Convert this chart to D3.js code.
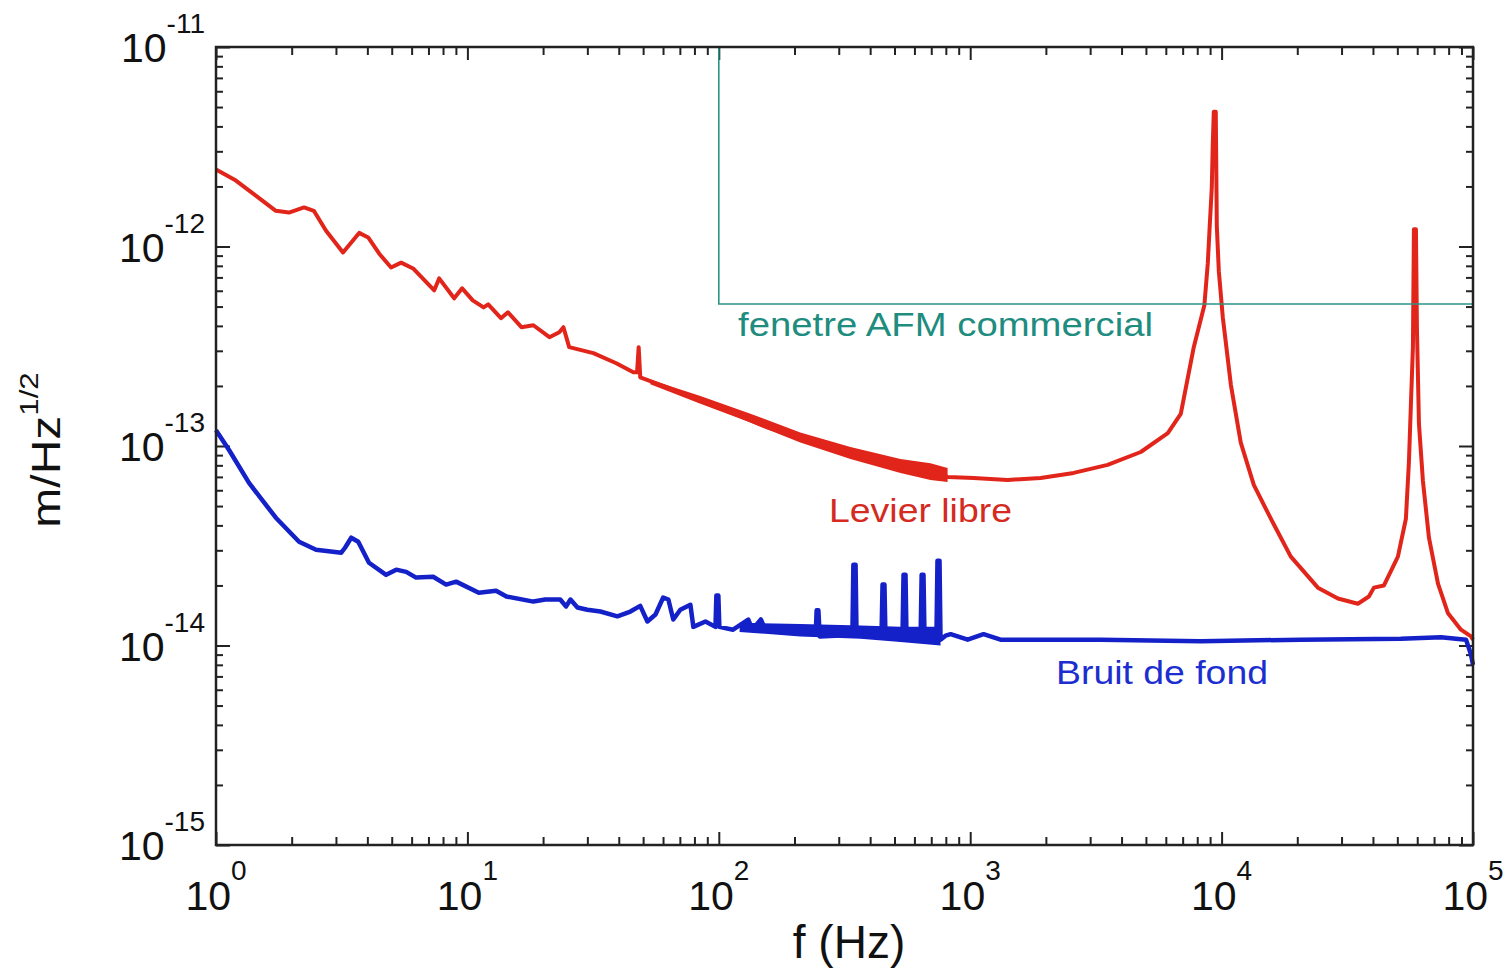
<!DOCTYPE html>
<html>
<head>
<meta charset="utf-8">
<script src="https://cdn.jsdelivr.net/npm/d3@7"></script>
<style>
  body { margin: 0; background: #fff; }
  svg { display: block; font-family: "Liberation Sans", Arial, sans-serif; }
</style>
</head>
<body>
<svg id="chart"></svg>
<script>
// frequency (Hz) / amplitude (m/Hz^1/2)
const redFreq = [1, 1.2, 1.44, 1.73, 1.95, 2.24, 2.45, 2.74, 3.2, 3.71, 4.03, 4.46, 4.97, 5.45, 6.08, 7.38, 7.72, 8.86, 9.53, 10.5,
  11.6, 12.1, 13.6, 14.5, 16.4, 18.3, 21.2, 23.2, 24.1, 25.4, 31.7, 39.1, 45.7, 47.3, 48.0, 48.7, 62.4, 84.5, 114, 156,
  211, 286, 391, 528, 715, 813, 1032, 1409, 1906, 2580, 3520, 4770, 6110, 6880, 7750, 8540, 8810, 8970, 9140, 9220,
  9310, 9480, 9570, 9750, 10110, 10890, 11920, 13430, 15700, 18850, 24150, 29010, 34850, 38540, 40360, 44240, 50270, 54090, 55600, 56630,
  57680, 58210, 59290, 59840, 60960, 63210, 66800, 72560, 79550, 89540, 98190, 100000];
const redAmp = [2.43e-12, 2.14e-12, 1.8e-12, 1.51e-12, 1.48e-12, 1.57e-12, 1.51e-12, 1.2e-12, 9.33e-13, 1.17e-12, 1.11e-12, 9.2e-13, 7.85e-13, 8.3e-13, 7.76e-13, 6.03e-13, 6.92e-13, 5.5e-13, 6.17e-13, 5.37e-13,
  4.95e-13, 5.13e-13, 4.37e-13, 4.68e-13, 3.94e-13, 4.03e-13, 3.51e-13, 3.72e-13, 3.94e-13, 3.13e-13, 2.92e-13, 2.6e-13, 2.34e-13, 2.34e-13, 3.13e-13, 2.21e-13, 1.97e-13, 1.7e-13, 1.46e-13, 1.24e-13,
  1.1e-13, 9.77e-14, 8.7e-14, 7.85e-14, 7.33e-14, 7.0e-14, 6.92e-14, 6.76e-14, 6.92e-14, 7.33e-14, 8.04e-14, 9.33e-14, 1.16e-13, 1.45e-13, 3.13e-13, 5.07e-13, 8.2e-13, 1.27e-12, 1.97e-12, 3.2e-12,
  4.73e-12, 4.73e-12, 1.27e-12, 7.5e-13, 4.42e-13, 2.02e-13, 1.04e-13, 6.38e-14, 4.32e-14, 2.79e-14, 1.95e-14, 1.72e-14, 1.62e-14, 1.76e-14, 1.95e-14, 2.0e-14, 2.79e-14, 4.32e-14, 8.3e-14, 1.62e-13,
  3.13e-13, 1.22e-12, 1.22e-12, 3.89e-13, 1.29e-13, 6.68e-14, 3.47e-14, 2.04e-14, 1.45e-14, 1.2e-14, 1.11e-14, 1.07e-14];

// noisy band of the red trace (upper / lower edge)
const redBandFreq = [53.4, 84.5, 133.6, 211, 334, 528, 695, 813];
const redBandHi = [2.15e-13, 1.78e-13, 1.45e-13, 1.17e-13, 9.89e-14, 8.6e-14, 8.2e-14, 7.76e-14];
const redBandLo = [2.04e-13, 1.63e-13, 1.31e-13, 1.04e-13, 8.6e-14, 7.33e-14, 6.76e-14, 6.6e-14];

const blueFreq = [1, 1.127, 1.353, 1.73, 2.14, 2.5, 3.15, 3.26, 3.45, 3.68, 4.06, 4.75, 5.21, 5.71, 6.25, 7.31, 8.23, 9.02, 11.1, 13.0,
  14.3, 18.3, 20.4, 23.4, 24.7, 25.7, 27.4, 30.0, 33.8, 39.5, 44.5, 48.7, 52.0, 56.0, 60.1, 63.0, 65.9, 70.3, 77.1, 79.2,
  88.5, 97.0, 97.8, 99.6, 100.5, 114, 131, 136, 147, 153, 181, 211, 243, 245, 249, 252, 291, 340, 343, 350,
  353, 402, 444, 448, 456, 460, 538, 543, 553, 558, 635, 641, 652, 658, 734, 741, 755, 762, 798, 836,
  977, 1130, 1320, 3300, 8260, 20650, 51650, 74600, 93800, 98190, 100000];
const blueAmp = [1.2e-13, 9.55e-14, 6.53e-14, 4.37e-14, 3.31e-14, 3.02e-14, 2.92e-14, 3.09e-14, 3.47e-14, 3.31e-14, 2.6e-14, 2.26e-14, 2.4e-14, 2.34e-14, 2.19e-14, 2.21e-14, 2.02e-14, 2.09e-14, 1.84e-14, 1.88e-14,
  1.76e-14, 1.66e-14, 1.7e-14, 1.7e-14, 1.57e-14, 1.7e-14, 1.55e-14, 1.51e-14, 1.48e-14, 1.4e-14, 1.48e-14, 1.58e-14, 1.32e-14, 1.43e-14, 1.74e-14, 1.7e-14, 1.35e-14, 1.51e-14, 1.6e-14, 1.24e-14,
  1.32e-14, 1.24e-14, 1.78e-14, 1.78e-14, 1.24e-14, 1.2e-14, 1.35e-14, 1.2e-14, 1.35e-14, 1.2e-14, 1.16e-14, 1.17e-14, 1.14e-14, 1.5e-14, 1.5e-14, 1.11e-14, 1.12e-14, 1.15e-14, 2.54e-14, 2.54e-14,
  1.15e-14, 1.12e-14, 1.15e-14, 2.02e-14, 2.02e-14, 1.14e-14, 1.14e-14, 2.26e-14, 2.26e-14, 1.12e-14, 1.12e-14, 2.26e-14, 2.26e-14, 1.1e-14, 1.1e-14, 2.66e-14, 2.66e-14, 1.07e-14, 1.12e-14, 1.14e-14,
  1.07e-14, 1.14e-14, 1.07e-14, 1.07e-14, 1.05e-14, 1.07e-14, 1.08e-14, 1.1e-14, 1.07e-14, 9.0e-15, 8.0e-15];

const blueBandFreq = [121, 211, 366, 528, 762];
const blueBandHi = [1.3e-14, 1.28e-14, 1.26e-14, 1.24e-14, 1.24e-14];
const blueBandLo = [1.17e-14, 1.11e-14, 1.08e-14, 1.04e-14, 1.0e-14];

// commercial AFM window (corner at 100 Hz)
const windowFreq = [100, 100, 100000];
const windowAmp = [1e-11, 5.15e-13, 5.15e-13];

const xTickExps = [0, 1, 2, 3, 4, 5];
const yTickExps = [-11, -12, -13, -14, -15];

const W = 1511, H = 968;
const margin = { left: 216, top: 47, right: W - 1473, bottom: H - 845 };
const width = W - margin.left - margin.right;
const height = H - margin.top - margin.bottom;

const svg = d3.select('#chart').attr('width', W).attr('height', H);
svg.append('rect').attr('width', W).attr('height', H).attr('fill', '#fff');

const g = svg.append('g').attr('transform', `translate(${margin.left},${margin.top})`);

const x = d3.scaleLog().domain([1, 1e5]).range([0, width]);
const y = d3.scaleLog().domain([1e-15, 1e-11]).range([height, 0]);

// ticks: majors on decades, minors 2..9
const xMajor = xTickExps.map(e => Math.pow(10, e));
const xMinor = [];
xTickExps.slice(0, -1).forEach(e => { for (let k = 2; k <= 9; k++) xMinor.push(k * Math.pow(10, e)); });
const yMajor = yTickExps.map(e => Math.pow(10, e));
const yMinor = [];
yTickExps.slice(1).forEach(e => { for (let k = 2; k <= 9; k++) yMinor.push(k * Math.pow(10, e)); });

function tickAxis(axisFn, scale, values, size, transform) {
  const a = g.append('g')
    .attr('transform', transform || null)
    .call(axisFn(scale).tickValues(values).tickSize(-size).tickFormat(''));
  a.select('.domain').remove();
  a.selectAll('line').attr('stroke', '#222').attr('stroke-width', 2);
}
tickAxis(d3.axisBottom, x, xMajor, 13, `translate(0,${height})`);
tickAxis(d3.axisBottom, x, xMinor, 8, `translate(0,${height})`);
tickAxis(d3.axisTop, x, xMajor, 13);
tickAxis(d3.axisTop, x, xMinor, 8);
tickAxis(d3.axisLeft, y, yMajor, 14);
tickAxis(d3.axisLeft, y, yMinor, 7);
tickAxis(d3.axisRight, y, yMajor, 14, `translate(${width},0)`);
tickAxis(d3.axisRight, y, yMinor, 7, `translate(${width},0)`);

// series
const line = d3.line().x(d => x(d[0])).y(d => y(d[1]));
const area = d3.area().x(d => x(d[0])).y0(d => y(d[2])).y1(d => y(d[1]));

const red = '#e1251b';
const blue = '#1420c8';
const teal = '#2a9485';

g.append('path')
  .datum(blueBandFreq.map((f, i) => [f, blueBandHi[i], blueBandLo[i]]))
  .attr('d', area).attr('fill', blue);
g.append('path')
  .datum(blueFreq.map((f, i) => [f, blueAmp[i]]))
  .attr('d', line).attr('fill', 'none').attr('stroke', blue)
  .attr('stroke-width', 4.5).attr('stroke-linejoin', 'round');

g.append('path')
  .datum(redBandFreq.map((f, i) => [f, redBandHi[i], redBandLo[i]]))
  .attr('d', area).attr('fill', red);
g.append('path')
  .datum(redFreq.map((f, i) => [f, redAmp[i]]))
  .attr('d', line).attr('fill', 'none').attr('stroke', red)
  .attr('stroke-width', 4).attr('stroke-linejoin', 'round');

g.append('path')
  .datum(windowFreq.map((f, i) => [f, windowAmp[i]]))
  .attr('d', line).attr('fill', 'none').attr('stroke', teal).attr('stroke-width', 1.6);

// frame
g.append('rect')
  .attr('width', width).attr('height', height)
  .attr('fill', 'none').attr('stroke', '#222').attr('stroke-width', 2.5);

// tick labels
const xl = svg.append('g').attr('fill', '#111');
xTickExps.forEach(e => {
  const t = xl.append('text')
    .attr('x', margin.left + x(Math.pow(10, e)))
    .attr('y', 910)
    .attr('text-anchor', 'middle');
  t.append('tspan').attr('font-size', 41).text('10');
  t.append('tspan').attr('font-size', 28).attr('dy', -30).text(e);
});
yTickExps.forEach(e => {
  const ty = margin.top + y(Math.pow(10, e));
  const t = xl.append('text')
    .attr('x', 205)
    .attr('y', ty + 15)
    .attr('text-anchor', 'end');
  t.append('tspan').attr('font-size', 41).text('10');
  t.append('tspan').attr('font-size', 28).attr('dy', -29).text(e);
});

// axis titles
svg.append('text')
  .attr('x', 849).attr('y', 958)
  .attr('text-anchor', 'middle')
  .attr('font-size', 46).attr('fill', '#111')
  .text('f (Hz)');

const yt = svg.append('text')
  .attr('transform', 'translate(60,450) rotate(-90) scale(1.2,1)')
  .attr('text-anchor', 'middle')
  .attr('fill', '#111');
yt.append('tspan').attr('font-size', 40).text('m/Hz');
yt.append('tspan').attr('font-size', 26).attr('dy', -22).text('1/2');

// curve labels
function label(txt, xx, yy, len, color) {
  svg.append('text')
    .attr('x', xx).attr('y', yy)
    .attr('font-size', 33)
    .attr('fill', color)
    .attr('textLength', len)
    .attr('lengthAdjust', 'spacingAndGlyphs')
    .text(txt);
}
label('fenetre AFM commercial', 738, 336, 415, '#1e8c7e');
label('Levier libre', 829, 522, 183, '#d42a22');
label('Bruit de fond', 1056, 684, 212, '#1c2ed0');
</script>
</body>
</html>
